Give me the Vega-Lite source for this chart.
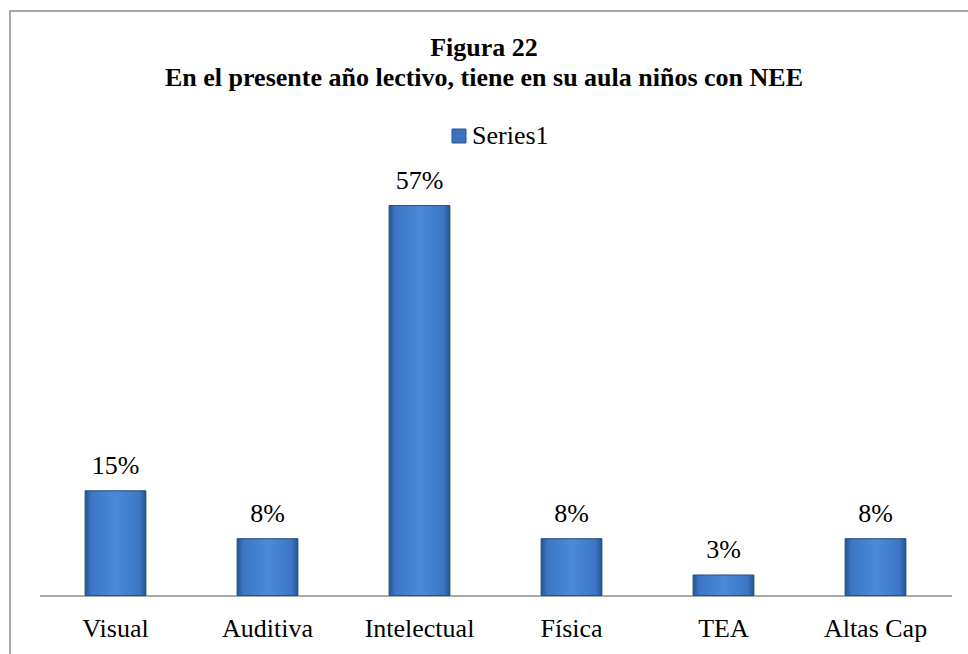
{
  "$schema": "https://vega.github.io/schema/vega-lite/v6.json",
  "autosize": {"type": "none"},
  "padding": {"left": 10, "top": 11, "right": -2, "bottom": -2},
  "width": 960,
  "height": 645,
  "background": "white",
  "config": {
    "font": "Liberation Serif",
    "view": {"stroke": "#8a8a8a", "strokeWidth": 1.5}
  },
  "title": {
    "text": ["Figura 22", "En el presente año lectivo, tiene en su aula niños con NEE"],
    "font": "Liberation Serif",
    "fontSize": 26,
    "fontWeight": "bold",
    "color": "black",
    "anchor": "middle",
    "frame": "group",
    "baseline": "alphabetic",
    "lineHeight": 30,
    "offset": -45,
    "dx": -6,
    "dy": 56
  },
  "data": {
    "values": [
      {"categoria": "Visual", "valor": 0.153, "serie": "Series1"},
      {"categoria": "Auditiva", "valor": 0.083, "serie": "Series1"},
      {"categoria": "Intelectual", "valor": 0.57, "serie": "Series1"},
      {"categoria": "Física", "valor": 0.083, "serie": "Series1"},
      {"categoria": "TEA", "valor": 0.03, "serie": "Series1"},
      {"categoria": "Altas Cap", "valor": 0.083, "serie": "Series1"}
    ]
  },
  "encoding": {
    "x": {
      "field": "categoria",
      "type": "nominal",
      "sort": null,
      "scale": {"range": [29.5, 941.5], "paddingInner": 0.6, "paddingOuter": 0.3},
      "axis": {
        "title": null,
        "labelAngle": 0,
        "ticks": false,
        "tickSize": 0,
        "labelPadding": 20,
        "labelFont": "Liberation Serif",
        "labelFontSize": 26,
        "labelColor": "black",
        "domainColor": "#8a8a8a",
        "domainWidth": 1.5,
        "offset": -60.5,
        "grid": false
      }
    },
    "y": {
      "field": "valor",
      "type": "quantitative",
      "scale": {"domain": [0, 0.6], "range": [584.5, 174], "nice": false},
      "axis": null
    }
  },
  "layer": [
    {
      "mark": {"type": "bar"},
      "encoding": {
        "color": {
          "field": "serie",
          "type": "nominal",
          "scale": {"range": ["#3b74be"]},
          "legend": {
            "title": null,
            "orient": "none",
            "legendX": 436,
            "legendY": 112,
            "padding": 0,
            "symbolType": "square",
            "symbolSize": 196,
            "symbolStrokeColor": "#27528a",
            "symbolStrokeWidth": 1,
            "symbolOpacity": 1,
            "labelFont": "Liberation Serif",
            "labelFontSize": 26,
            "labelColor": "black",
            "labelOffset": 0
          }
        }
      }
    },
    {
      "mark": {
        "type": "bar",
        "stroke": "#27528a",
        "strokeWidth": 1,
        "fill": {
          "gradient": "linear",
          "x1": 0, "y1": 0, "x2": 1, "y2": 0,
          "stops": [
            {"offset": 0, "color": "#27528a"},
            {"offset": 0.1, "color": "#3b76c4"},
            {"offset": 0.5, "color": "#4a8ad6"},
            {"offset": 0.9, "color": "#3b76c4"},
            {"offset": 1, "color": "#27528a"}
          ]
        }
      }
    },
    {
      "mark": {
        "type": "text",
        "baseline": "alphabetic",
        "dy": -16.5,
        "font": "Liberation Serif",
        "fontSize": 26,
        "color": "black"
      },
      "encoding": {
        "text": {"field": "valor", "type": "quantitative", "format": ".0%"}
      }
    }
  ]
}
